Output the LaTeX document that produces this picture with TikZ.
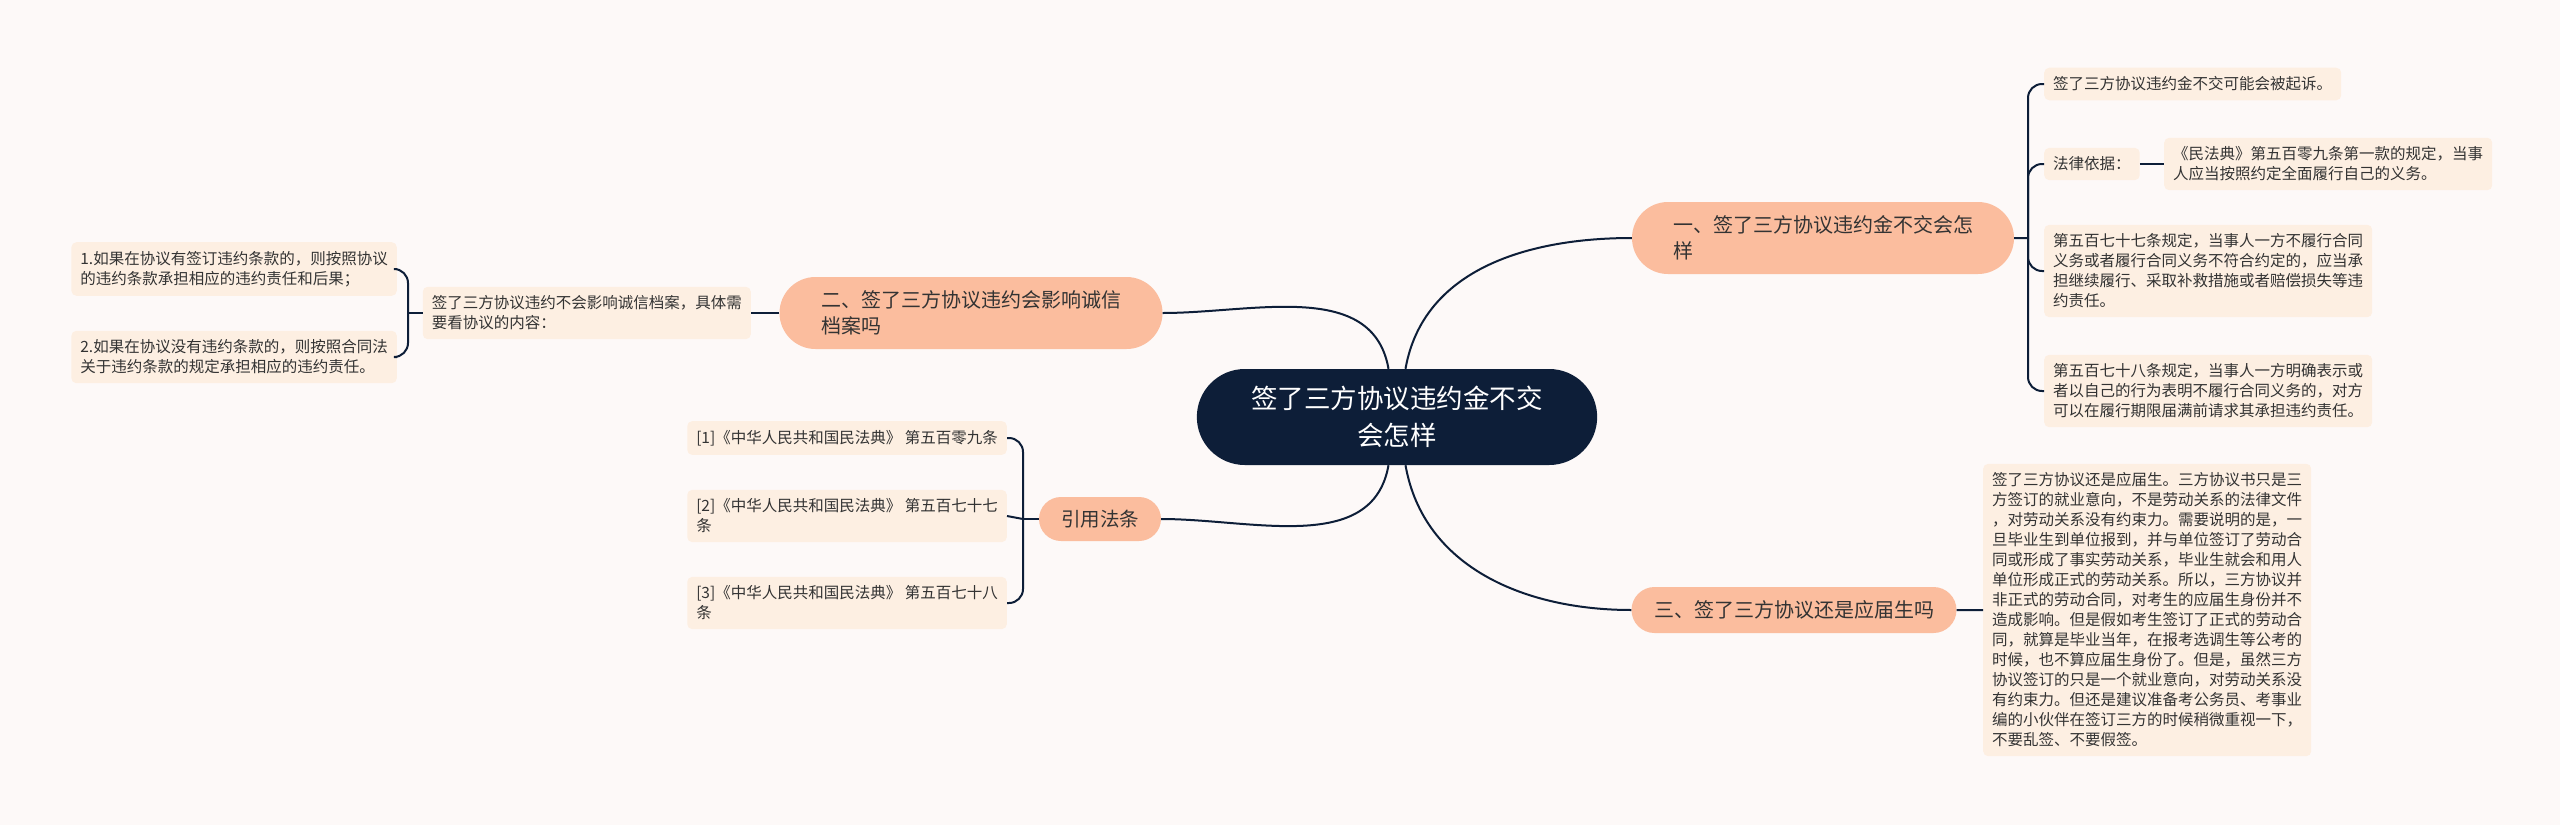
\documentclass[tikz,border=0pt]{standalone}
\usepackage{fontspec}
\setmainfont{Noto Sans CJK SC}
\usetikzlibrary{shapes.misc}
\definecolor{bgc}{HTML}{FDF9F8}
\definecolor{navy}{HTML}{0D1E38}
\definecolor{peach}{HTML}{FBBD9E}
\definecolor{cream}{HTML}{FDEFE2}
\definecolor{ink}{HTML}{333333}
\tikzset{
  link/.style={draw=navy,line width=2pt},
  bracket/.style={to path={|- (\tikztotarget)},rounded corners=14pt},
  rootnode/.style={rounded rectangle,fill=navy,text=white,align=center,
    minimum width=407pt,minimum height=96pt,font=\fontsize{26.5}{37}\selectfont},
  branch/.style={rounded rectangle,fill=peach,text=ink,align=left,inner xsep=1pt,
    font=\fontsize{20}{26.5}\selectfont},
  leaf/.style={fill=cream,text=ink,rounded corners=5pt,align=left,
    inner xsep=9pt,inner ysep=9pt,font=\fontsize{15.5}{20}\selectfont}
}
\begin{document}
\begin{tikzpicture}[x=1pt,y=-1pt]
  \useasboundingbox[fill=bgc] (0,0) rectangle (2560,825);
  \node[rootnode] (R) at (1397,417) {签了三方协议违约金不交\\会怎样};
  \node[branch,minimum width=384pt,minimum height=72pt] (B1) at (1823,238) {一、签了三方协议违约金不交会怎\\样};
  \node[branch,minimum width=385pt,minimum height=72pt] (B2) at (971,313) {二、签了三方协议违约会影响诚信\\档案吗};
  \node[branch,minimum width=327pt,minimum height=46pt] (B3) at (1794,610) {三、签了三方协议还是应届生吗};
  \node[branch,minimum width=124pt,minimum height=44pt,font=\fontsize{19.5}{24}\selectfont] (B4) at (1100,519) {引用法条};
  \node[leaf,anchor=west] (A1) at (2044,84) {签了三方协议违约金不交可能会被起诉。};
  \node[leaf,anchor=west] (A2) at (2044,164) {法律依据：};
  \node[leaf,anchor=west] (A3) at (2164,164) {《民法典》第五百零九条第一款的规定，当事\\人应当按照约定全面履行自己的义务。};
  \node[leaf,anchor=west] (A4) at (2044,271) {第五百七十七条规定，当事人一方不履行合同\\义务或者履行合同义务不符合约定的，应当承\\担继续履行、采取补救措施或者赔偿损失等违\\约责任。};
  \node[leaf,anchor=west] (A5) at (2044,391) {第五百七十八条规定，当事人一方明确表示或\\者以自己的行为表明不履行合同义务的，对方\\可以在履行期限届满前请求其承担违约责任。};
  \node[leaf,anchor=west] (C1) at (1983,610) {签了三方协议还是应届生。三方协议书只是三\\方签订的就业意向，不是劳动关系的法律文件\\，对劳动关系没有约束力。需要说明的是，一\\旦毕业生到单位报到，并与单位签订了劳动合\\同或形成了事实劳动关系，毕业生就会和用人\\单位形成正式的劳动关系。所以，三方协议并\\非正式的劳动合同，对考生的应届生身份并不\\造成影响。但是假如考生签订了正式的劳动合\\同，就算是毕业当年，在报考选调生等公考的\\时候，也不算应届生身份了。但是，虽然三方\\协议签订的只是一个就业意向，对劳动关系没\\有约束力。但还是建议准备考公务员、考事业\\编的小伙伴在签订三方的时候稍微重视一下，\\不要乱签、不要假签。};
  \node[leaf,anchor=east] (M) at (751,313) {签了三方协议违约不会影响诚信档案，具体需\\要看协议的内容：};
  \node[leaf,anchor=east] (M1) at (397,269) {1.如果在协议有签订违约条款的，则按照协议\\的违约条款承担相应的违约责任和后果；};
  \node[leaf,anchor=east] (M2) at (397,357) {2.如果在协议没有违约条款的，则按照合同法\\关于违约条款的规定承担相应的违约责任。};
  \node[leaf,anchor=east] (F1) at (1007,438) {[1]《中华人民共和国民法典》 第五百零九条};
  \node[leaf,anchor=east] (F2) at (1007,516) {[2]《中华人民共和国民法典》 第五百七十七\\条};
  \node[leaf,anchor=east] (F3) at (1007,603) {[3]《中华人民共和国民法典》 第五百七十八\\条};
  \coordinate (J1) at (2028,238);
  \coordinate (J2) at (408,313);
  \coordinate (J3) at (1023,519);
  \path[link] (R) edge[out=80,in=180] (B1);
  \path[link] (R) edge[out=100,in=0] (B2);
  \path[link] (R) edge[out=-80,in=180] (B3);
  \path[link] (R) edge[out=-100,in=0] (B4);
  \path[link] (B1) edge (J1);
  \path[link] (J1) edge[bracket] (A1.west);
  \path[link] (J1) edge[bracket] (A2.west);
  \path[link] (J1) edge[bracket] (A4.west);
  \path[link] (J1) edge[bracket] (A5.west);
  \path[link] (A2) edge (A3);
  \path[link] (B3) edge (C1);
  \path[link] (B2) edge (M);
  \path[link] (M) edge (J2);
  \path[link] (J2) edge[bracket] (M1.east);
  \path[link] (J2) edge[bracket] (M2.east);
  \path[link] (B4) edge (J3);
  \path[link] (J3) edge[bracket] (F1.east);
  \path[link] (J3) edge (F2.east);
  \path[link] (J3) edge[bracket] (F3.east);
\end{tikzpicture}
\end{document}
